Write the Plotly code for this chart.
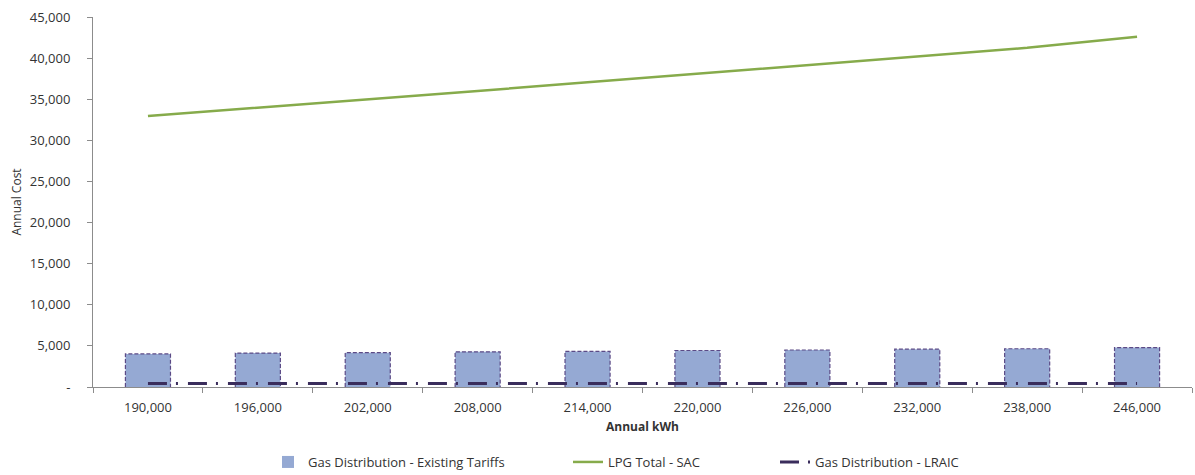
import plotly.graph_objects as go

categories = ["190,000", "196,000", "202,000", "208,000", "214,000",
              "220,000", "226,000", "232,000", "238,000", "246,000"]
existing_tariffs = [4020, 4130, 4180, 4280, 4330, 4440, 4500, 4600, 4650, 4790]
lpg_total_sac = [32950, 33950, 35000, 36000, 37050, 38100, 39150, 40200, 41250, 42600]
lraic = [420, 420, 420, 420, 425, 425, 425, 430, 430, 430]
y_tickvals = [0, 5000, 10000, 15000, 20000, 25000, 30000, 35000, 40000, 45000]
y_ticktext = ["-", "5,000", "10,000", "15,000", "20,000", "25,000",
              "30,000", "35,000", "40,000", "45,000"]

FONT = "Open Sans"
TXT = "#333333"
AX = "#8C8C8C"
BAR_W = 0.41

idx = list(range(len(categories)))

fig = go.Figure()
fig.add_trace(go.Bar(
    x=idx, y=existing_tariffs, width=BAR_W,
    name="Gas Distribution - Existing Tariffs",
    marker=dict(color="#95A9D3", line=dict(width=0)),
    legend="legend",
))
# dashed outlines of bars, built from data
ox, oy = [], []
for i, v in zip(idx, existing_tariffs):
    h = BAR_W / 2
    ox += [i - h, i - h, i + h, i + h, None]
    oy += [0, v, v, 0, None]
fig.add_trace(go.Scatter(
    x=ox, y=oy, mode="lines", showlegend=False, hoverinfo="skip",
    line=dict(color="#5B4A86", width=1.2, dash="4px,2px"),
))
fig.add_trace(go.Scatter(
    x=idx, y=lpg_total_sac, mode="lines", name="LPG Total - SAC",
    line=dict(color="#86AB4B", width=2.5), legend="legend2",
))
fig.add_trace(go.Scatter(
    x=idx, y=lraic, mode="lines", name="Gas Distribution - LRAIC",
    line=dict(color="#3A2D5C", width=3, dash="19px,9px,2px,10px"),
    legend="legend3",
))

legend_common = dict(orientation="h", xref="container", yref="container",
                     yanchor="middle", xanchor="left",
                     font=dict(family=FONT, size=13, color=TXT),
                     bgcolor="rgba(0,0,0,0)")
fig.update_layout(
    width=1195, height=475,
    margin=dict(l=93, r=3, t=17, b=88),
    paper_bgcolor="white", plot_bgcolor="white",
    font=dict(family=FONT, size=13, color=TXT),
    showlegend=True,
    legend=dict(x=268 / 1195, y=1 - 462 / 475, **legend_common),
    legend2=dict(x=568 / 1195, y=1 - 462 / 475, **legend_common),
    legend3=dict(x=775 / 1195, y=1 - 462 / 475, **legend_common),
    xaxis=dict(
        range=[-0.5, len(categories) - 0.5],
        tickmode="array", tickvals=idx, ticktext=categories,
        ticks="", showgrid=False, zeroline=False,
        showline=True, linecolor=AX, linewidth=1,
        tickfont=dict(family=FONT, size=13, color=TXT),
        ticklabelstandoff=8,
        minor=dict(tickmode="array",
                   tickvals=[i - 0.5 for i in range(len(categories) + 1)],
                   ticks="outside", ticklen=5, tickcolor=AX, showgrid=False),
        title=dict(text="<b>Annual kWh</b>", font=dict(family=FONT, size=12, color=TXT),
                   standoff=8),
    ),
    yaxis=dict(
        range=[0, 45000], tickmode="array", tickvals=y_tickvals, ticktext=y_ticktext,
        ticks="outside", ticklen=5, tickcolor=AX,
        showgrid=False, zeroline=False,
        showline=True, linecolor=AX, linewidth=1,
        tickfont=dict(family=FONT, size=13, color=TXT),
        ticklabelstandoff=14,
        title=dict(text="Annual Cost", font=dict(family=FONT, size=12, color=TXT),
                   standoff=5),
    ),
)

fig.write_html("out.html")
